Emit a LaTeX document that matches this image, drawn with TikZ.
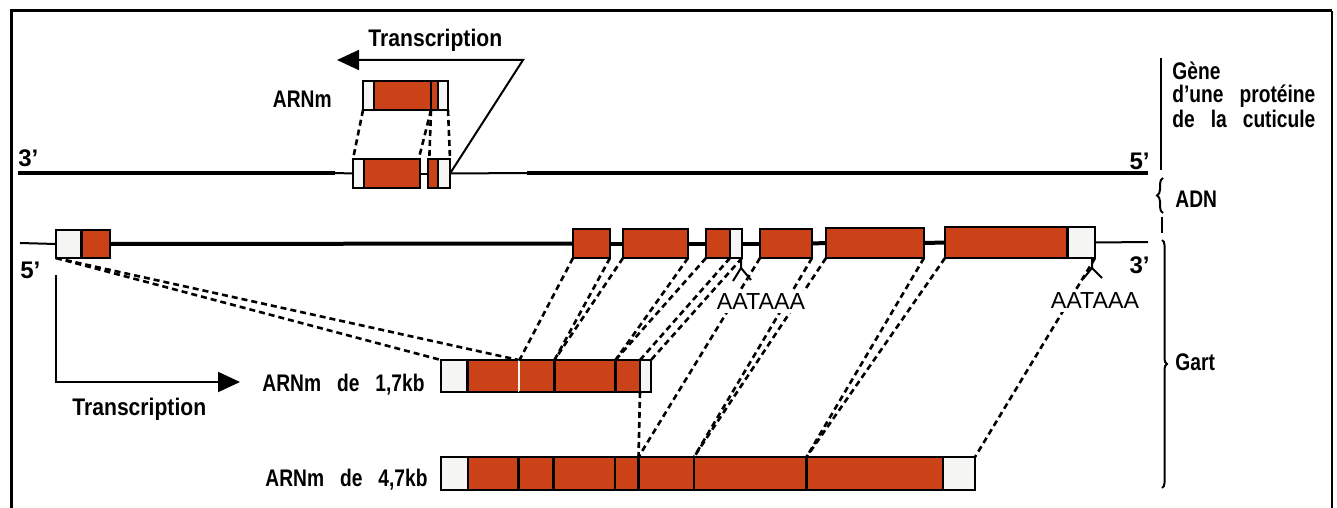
\documentclass[tikz,border=0pt]{standalone}
\usepackage{fontspec}
\setmainfont{Liberation Sans}
\newfontfamily\condfont{Liberation Sans}[FakeStretch=0.8,WordSpace=3]
\newfontfamily\txfont{Liberation Sans}[FakeStretch=0.88]
\usetikzlibrary{arrows.meta,fit,decorations.pathreplacing}

\definecolor{exonred}{RGB}{203,66,24}
\definecolor{utrfill}{RGB}{245,245,243}

\tikzset{
  labtxt/.style={font=\condfont\bfseries\fontsize{12}{14}\selectfont, inner sep=0pt},
  txtxt/.style={font=\txfont\bfseries\fontsize{12}{14}\selectfont, inner sep=0pt},
  endtxt/.style={font=\bfseries\fontsize{12}{14}\selectfont, inner sep=0pt},
  signaltxt/.style={font=\fontsize{11.6}{14}\selectfont, fill=white, inner sep=1.5pt},
  framebox/.style={draw=black, line width=1.3pt, fill=utrfill, inner sep=0pt, outer sep=0pt},
  codingbox/.style={draw=black, line width=1.3pt, fill=exonred, inner sep=0pt, outer sep=0pt},
  codingpart/.style={fill=exonred, draw=none, inner sep=0pt, outer sep=0pt},
  divider/.style={line width=1.2pt},
  lightdiv/.style={line width=0.6pt, draw=white!85!yellow},
  dnathick/.style={line width=2pt},
  dnathin/.style={line width=1pt},
  maplink/.style={line width=1.3pt, dash pattern=on 3pt off 2pt},
  txarrow/.style={line width=1pt, -{Triangle[length=11pt,width=10pt]}},
  polyA/.style={line width=1pt},
  bracket/.style={line width=1pt},
}
% vertical separator across a box, at a given x anchor
\newcommand\cutline[3][divider]{\draw[#1] (#2 |- #3.north) -- (#2 |- #3.south);}

\begin{document}
\begin{tikzpicture}[x=0.5pt,y=-0.5pt]
\useasboundingbox (0,0) rectangle (1337,508);

% ---------- frame ----------
\coordinate (fTL) at (11,11);
\coordinate (fTR) at (1332,11);
\coordinate (fBL) at (11,508);
\coordinate (fBR) at (1332,508);
\draw[line width=1.5pt] (fBL) -- (fTL) -- (fTR);
\draw[line width=1pt] (fTR) -- (fBR);

% ---------- cuticle protein gene ----------
\coordinate (t3end) at (18,173);
\coordinate (tthickA) at (335,173);
\coordinate (tthickB) at (527,173);
\coordinate (t5end) at (1148,173);

\node[framebox, fit={(353,159) (420,188)}] (T1) {};
\node[framebox, fit={(428,159) (450,188)}] (T2) {};
\draw[dnathick] (t3end) -- (tthickA);
\draw[dnathin] (tthickA) -- (T1.west);
\draw[dnathin] (T1.east) -- (T2.west);
\draw[dnathin] (T2.east) -- (tthickB);
\draw[dnathick] (tthickB) -- (t5end);
\node[codingpart, fit={(364,160.3) (418.7,186.7)}] (T1a) {};
\node[codingpart, fit={(429.3,160.3) (438,186.7)}] (T2a) {};
\cutline{T1a.west}{T1}
\cutline{T2a.east}{T2}

% its messenger
\node[framebox, fit={(363,81) (448,110)}] (TM) {};
\node[codingpart, fit={(374,82.3) (431,108.7)}] (TMa) {};
\node[codingpart, fit={(431,82.3) (438,108.7)}] (TMb) {};
\cutline{TMa.west}{TM}
\cutline[line width=0.8pt]{TMa.east}{TM}
\cutline{TMb.east}{TM}

\draw[maplink] (TM.south west) -- (T1.north west);
\draw[maplink] (TMa.east |- TM.south) -- (T1a.east |- T1.north);
\draw[maplink] (TMb.west |- TM.south) -- (T2a.west |- T2.north);
\draw[maplink] (TM.south east) -- (T2.north east);

\coordinate (tcTurn) at (523,60);
\coordinate (tcTip) at (337,60);
\draw[txarrow] (T2.east) -- (tcTurn) -- (tcTip);

\node[txtxt, anchor=base west] (txTop) at (368,47) {Transcription};
\node[labtxt, anchor=base east] (arnmTop) at (332,107) {ARNm};
\node[endtxt, anchor=base west] (top3lab) at (18,166) {3’};
\node[endtxt, anchor=base east] (top5lab) at (1150,169) {5’};

% ---------- Gart gene ----------
\coordinate (g5end) at (20,243);
\coordinate (g3end) at (1148,242);

\node[framebox, fit={(56,230) (110,258)}] (G0) {};
\node[codingbox, fit={(573,229) (610,258)}] (GA) {};
\node[codingbox, fit={(623,229) (688,258)}] (GB) {};
\node[framebox, fit={(706,229) (742,258)}] (GC) {};
\node[codingbox, fit={(760,229) (812,258)}] (GD) {};
\node[codingbox, fit={(826,228) (924,258)}] (GE) {};
\node[framebox, fit={(945,227) (1095,258)}] (GF) {};

\draw[dnathin] (g5end) -- (G0.west);
\draw[dnathick] (G0.east) -- (GA.west);
\draw[dnathick] (GA.east) -- (GB.west);
\draw[dnathick] (GB.east) -- (GC.west);
\draw[dnathick] (GC.east) -- (GD.west);
\draw[dnathick] (GD.east) -- (GE.west);
\draw[dnathick] (GE.east) -- (GF.west);
\draw[dnathin] (GF.east) -- (g3end);

\node[codingpart, fit={(81.5,231.3) (108.7,256.7)}] (G0a) {};
\node[codingpart, fit={(707.3,230.3) (730,256.7)}] (GCa) {};
\node[codingpart, fit={(946.3,228.3) (1067.5,256.7)}] (GFa) {};
\cutline[line width=1.5pt]{G0a.west}{G0}
\cutline{GCa.east}{GC}
\cutline{GFa.east}{GF}

\node[endtxt, anchor=base west] (g5lab) at (20,278) {5’};
\node[endtxt, anchor=base east] (g3lab) at (1150,273) {3’};

% polyadenylation signals
\coordinate (pa1) at (741,258);
\draw[polyA] (pa1) -- ++(0,10) coordinate (pa1f) -- ++(-8,13);
\draw[polyA] (pa1f) -- ++(10,12);
\coordinate (pa2) at (1092,258);
\draw[polyA] (pa2) -- ++(0,10) coordinate (pa2f) -- ++(-9,11);
\draw[polyA] (pa2f) -- ++(10,10);

% ---------- 1,7 kb messenger ----------
\node[framebox, fit={(441,360) (651,392)}] (R17) {};
\node[codingpart, fit={(467.5,361.3) (518.5,390.7)}] (e1) {};
\node[codingpart, fit={(519.5,361.3) (554.5,390.7)}] (e2) {};
\node[codingpart, fit={(554.5,361.3) (615.5,390.7)}] (e3) {};
\node[codingpart, fit={(615.5,361.3) (640,390.7)}] (e4) {};
\cutline[line width=1.5pt]{e1.west}{R17}
\cutline[lightdiv]{e1.east}{R17}
\cutline[line width=1.5pt]{e3.west}{R17}
\cutline[line width=1.5pt]{e4.west}{R17}
\cutline{e4.east}{R17}

% ---------- 4,7 kb messenger ----------
\node[framebox, fit={(441,457) (975,490)}] (R47) {};
\node[codingpart, fit={(468,458.3) (518.5,488.7)}] (s1) {};
\node[codingpart, fit={(518.5,458.3) (553.5,488.7)}] (s2) {};
\node[codingpart, fit={(553.5,458.3) (615,488.7)}] (s3) {};
\node[codingpart, fit={(615,458.3) (638.5,488.7)}] (s4) {};
\node[codingpart, fit={(638.5,458.3) (694,488.7)}] (s5) {};
\node[codingpart, fit={(694,458.3) (806.5,488.7)}] (s6) {};
\node[codingpart, fit={(806.5,458.3) (943,488.7)}] (s7) {};
\cutline{s1.west}{R47}
\cutline{s2.west}{R47}
\cutline{s3.west}{R47}
\cutline{s4.west}{R47}
\cutline{s5.west}{R47}
\cutline{s6.west}{R47}
\cutline{s7.west}{R47}
\cutline{s7.east}{R47}

% ---------- exon correspondences ----------
\draw[maplink] (G0.south west) -- (R17.north west);
\draw[maplink] (G0.south west) -- (e1.east |- R17.north);
\draw[maplink] (GA.south west) -- (e2.west |- R17.north);
\draw[maplink] (GA.south east) -- (e2.east |- R17.north);
\draw[maplink] (GB.south west) -- (e3.west |- R17.north);
\draw[maplink] (GB.south east) -- (e3.east |- R17.north);
\draw[maplink] (GC.south west) -- (e4.west |- R17.north);
\draw[maplink] (GCa.east |- GC.south) -- (e4.east |- R17.north);
\draw[maplink] (GC.south east) -- (R17.north east);
\draw[maplink] (e4.east |- R17.south) -- (s5.west |- R47.north);
\draw[maplink] (GD.south west) -- (s5.west |- R47.north);
\draw[maplink] (GD.south east) -- (s5.east |- R47.north);
\draw[maplink] (GE.south west) -- (s6.west |- R47.north);
\draw[maplink] (GE.south east) -- (s6.east |- R47.north);
\draw[maplink] (GF.south west) -- (s7.west |- R47.north);
\draw[maplink] (GF.south east) -- (R47.north east);

\node[signaltxt] (aat1) at (761,302) {AATAAA};
\node[signaltxt] (aat2) at (1095,301) {AATAAA};

% transcription of the Gart gene
\coordinate (bcStart) at (56,275);
\coordinate (bcTurn) at (56,382);
\coordinate (bcTip) at (240,382);
\draw[txarrow] (bcStart) -- (bcTurn) -- (bcTip);

\node[labtxt, anchor=base east] (r17lab) at (425,391) {ARNm de 1,7kb};
\node[txtxt, anchor=base west] (txBot) at (72,415) {Transcription};
\node[labtxt, anchor=base east] (r47lab) at (428,486) {ARNm de 4,7kb};

% ---------- right-hand legend ----------
\coordinate (barTop) at (1161,58);
\coordinate (barBot) at (1161,170);
\draw[bracket] (barTop) -- (barBot);
\node[labtxt, anchor=base west] (geneA) at (1172,80) {Gène};
\node[labtxt, anchor=base west] (geneB) at (1172,103) {d’une protéine};
\node[labtxt, anchor=base west] (geneC) at (1172,127) {de la cuticule};

\coordinate (adnLo) at (1163,213);
\coordinate (adnHi) at (1163,178);
\draw[bracket, decorate, decoration={brace, amplitude=3pt}] (adnLo) -- (adnHi);
\node[labtxt, anchor=base west] (adnlab) at (1175,207) {ADN};

\coordinate (stubTop) at (1162,217);
\coordinate (stubBot) at (1162,233);
\draw[line width=1.3pt] (stubTop) -- (stubBot);

\coordinate (gartHi) at (1162,240);
\coordinate (gartLo) at (1162,488);
\draw[bracket, decorate, decoration={brace, amplitude=2.5pt}] (gartHi) -- (gartLo);
\node[labtxt, anchor=base west] (gartlab) at (1175,370) {Gart};

\end{tikzpicture}
\end{document}
